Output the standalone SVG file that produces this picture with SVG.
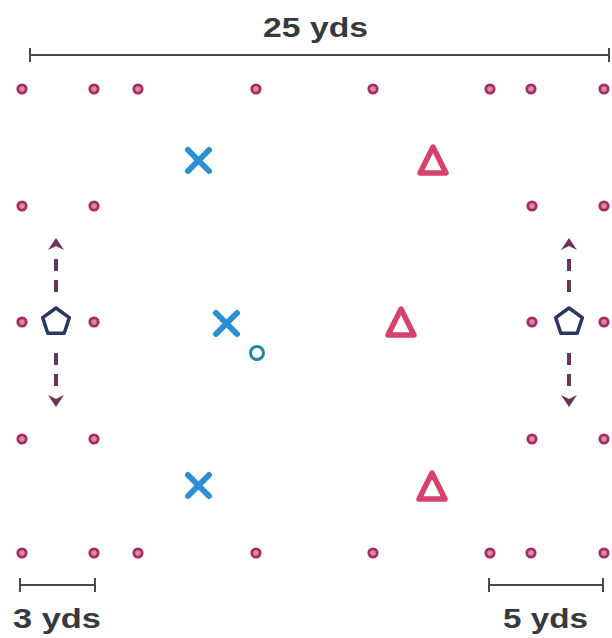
<svg xmlns="http://www.w3.org/2000/svg" width="612" height="638" viewBox="0 0 612 638">
<style>
.dot{fill:#d98aa9;stroke:#a62d5f;stroke-width:2.8}
.x{stroke:#2b8fd2;stroke-width:6;stroke-linecap:round}
.tri{fill:none;stroke:#d6426c;stroke-width:5.5;stroke-linejoin:round}
.pent{fill:none;stroke:#283763;stroke-width:3.5;stroke-linejoin:round}
.run{stroke:#6a3358;stroke-width:4;stroke-dasharray:12 9;fill:none}
.scale{stroke:#4a4a4a;stroke-width:2;fill:none}
.lbl{font-family:"Liberation Sans",Arial,sans-serif;font-weight:bold;font-size:28px;fill:#363a3c}
</style>
<defs>
<marker id="ah" viewBox="-13 -9 14 18" markerWidth="14" markerHeight="18" refX="-12" refY="0" orient="auto" markerUnits="userSpaceOnUse">
<path d="M0,0 L-12,-8 L-8,0 L-12,8 Z" fill="#6a3358"/>
</marker>
</defs>
<rect width="612" height="638" fill="#ffffff"/>
<g id="scales">
<path class="scale" d="M30,55 H609 M30,48 V62 M609,48 V62"/>
<text class="lbl" x="263" y="37" textLength="105" lengthAdjust="spacingAndGlyphs">25 yds</text>
<path class="scale" d="M20,585 H95 M20,578 V592 M95,578 V592"/>
<text class="lbl" x="13" y="628" textLength="88" lengthAdjust="spacingAndGlyphs">3 yds</text>
<path class="scale" d="M489,585 H603 M489,578 V592 M603,578 V592"/>
<text class="lbl" x="503" y="628" textLength="85" lengthAdjust="spacingAndGlyphs">5 yds</text>
</g>
<g id="cones">
<circle class="dot" cx="22" cy="89" r="4.2"/><circle class="dot" cx="94" cy="89" r="4.2"/><circle class="dot" cx="138" cy="89" r="4.2"/><circle class="dot" cx="256" cy="89" r="4.2"/><circle class="dot" cx="373" cy="89" r="4.2"/><circle class="dot" cx="490" cy="89" r="4.2"/><circle class="dot" cx="531" cy="89" r="4.2"/><circle class="dot" cx="604" cy="89" r="4.2"/>
<circle class="dot" cx="22" cy="206" r="4.2"/><circle class="dot" cx="94" cy="206" r="4.2"/><circle class="dot" cx="532" cy="206" r="4.2"/><circle class="dot" cx="604" cy="206" r="4.2"/>
<circle class="dot" cx="22" cy="322" r="4.2"/><circle class="dot" cx="94" cy="322" r="4.2"/><circle class="dot" cx="532" cy="322" r="4.2"/><circle class="dot" cx="604" cy="322" r="4.2"/>
<circle class="dot" cx="22" cy="439" r="4.2"/><circle class="dot" cx="94" cy="439" r="4.2"/><circle class="dot" cx="532" cy="439" r="4.2"/><circle class="dot" cx="604" cy="439" r="4.2"/>
<circle class="dot" cx="22" cy="553" r="4.2"/><circle class="dot" cx="94" cy="553" r="4.2"/><circle class="dot" cx="138" cy="553" r="4.2"/><circle class="dot" cx="256" cy="553" r="4.2"/><circle class="dot" cx="373" cy="553" r="4.2"/><circle class="dot" cx="490" cy="553" r="4.2"/><circle class="dot" cx="531" cy="553" r="4.2"/><circle class="dot" cx="604" cy="553" r="4.2"/>
</g>
<g id="connectors">
<path class="run" d="M56,292 V250" marker-end="url(#ah)"/>
<path class="run" d="M56,353 V395" marker-end="url(#ah)"/>
<path class="run" d="M569,292 V250" marker-end="url(#ah)"/>
<path class="run" d="M569,353 V395" marker-end="url(#ah)"/>
</g>
<g id="x1"><path class="x" d="M188,150 L209,171 M209,150 L188,171"/></g>
<g id="x2"><path class="x" d="M216,313 L237,334 M237,313 L216,334"/></g>
<g id="x3"><path class="x" d="M188,475 L209,496 M209,475 L188,496"/></g>
<g id="ball"><circle cx="257" cy="353" r="6.5" fill="none" stroke="#1f8a9e" stroke-width="3"/></g>
<g id="t1"><path class="tri" d="M433,147 L446,173 L420,173 Z"/></g>
<g id="t2"><path class="tri" d="M401,309 L414,335 L388,335 Z"/></g>
<g id="t3"><path class="tri" d="M432,473 L445,499 L419,499 Z"/></g>
<g id="p1"><path class="pent" d="M56,308 L69.3,317.7 L64.2,333.3 L47.8,333.3 L42.7,317.7 Z"/></g>
<g id="p2"><path class="pent" d="M569,308 L582.3,317.7 L577.2,333.3 L560.8,333.3 L555.7,317.7 Z"/></g>
</svg>
